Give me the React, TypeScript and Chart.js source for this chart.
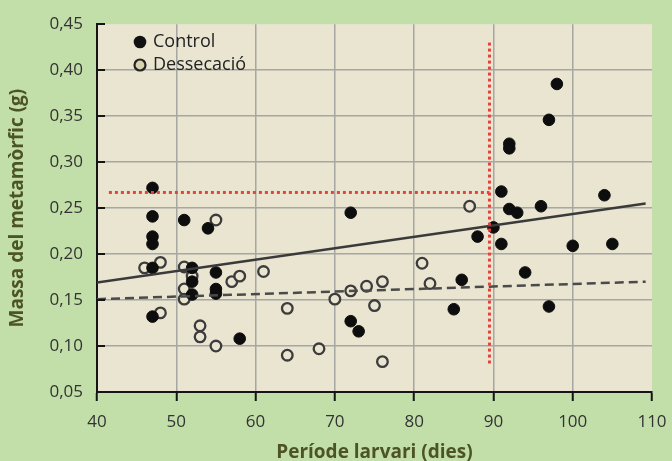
import React, { useEffect, useRef } from 'react';
import { Chart, registerables } from 'chart.js';

Chart.register(...registerables);

// ---- data ----
const controlX = [47, 47, 47, 47, 47, 47, 51, 54, 52, 52, 52, 55, 55, 55, 58, 72, 72, 73, 85, 86, 88, 90, 91, 91, 92, 93, 92, 92, 94, 96, 97, 97, 98, 100, 104, 105];
const controlY = [0.272, 0.241, 0.219, 0.211, 0.185, 0.132, 0.237, 0.228, 0.185, 0.170, 0.156, 0.180, 0.162, 0.157, 0.108, 0.245, 0.127, 0.116, 0.140, 0.172, 0.219, 0.229, 0.211, 0.268, 0.249, 0.245, 0.320, 0.315, 0.180, 0.252, 0.143, 0.346, 0.385, 0.209, 0.264, 0.211];

const dessX = [46, 48, 48, 51, 52, 51, 51, 55, 53, 53, 55, 57, 58, 61, 64, 64, 68, 70, 72, 74, 75, 76, 76, 81, 82, 87];
const dessY = [0.185, 0.191, 0.136, 0.186, 0.176, 0.162, 0.151, 0.237, 0.122, 0.110, 0.100, 0.170, 0.176, 0.181, 0.141, 0.090, 0.097, 0.151, 0.160, 0.165, 0.144, 0.170, 0.083, 0.190, 0.168, 0.252];

const controlTrendX = [40, 109.2];
const controlTrendY = [0.169, 0.255];
const dessTrendX = [40, 109.2];
const dessTrendY = [0.151, 0.170];

const redHX = [41.5, 89.5];
const redHY = [0.267, 0.267];
const redVX = [89.5, 89.5];
const redVY = [0.430, 0.081];

const xMin = 40, xMax = 110, xStep = 10;
const yMin = 0.05, yMax = 0.45, yStep = 0.05;

const legendLabels = ['Control', 'Dessecació'];
const xTitle = 'Període larvari (dies)';
const yTitle = 'Massa del metamòrfic (g)';

// ---- styles ----
const GREEN = '#C3DFA9';
const BEIGE = '#E9E5D1';
const GRID = '#A6A6A3';
const AXIS = '#151515';
const TITLE = '#4C5426';
const TICK = '#333333';
const RED = '#E8413C';

const pts = (xs: number[], ys: number[]) => xs.map((x, i) => ({ x, y: ys[i] }));

const deco = {
  id: 'deco',
  beforeDraw(chart: any) {
    const { ctx, chartArea: a, width, height } = chart;
    ctx.save();
    ctx.fillStyle = GREEN;
    ctx.fillRect(0, 0, width, height);
    ctx.fillStyle = BEIGE;
    ctx.fillRect(a.left, a.top, a.right - a.left, a.bottom - a.top);
    ctx.restore();
  },
  afterDraw(chart: any) {
    const { ctx, chartArea: a } = chart;
    const ys = chart.scales.y;
    ctx.save();
    ctx.strokeStyle = AXIS;
    ctx.lineWidth = 2;
    ys.ticks.forEach((t: any) => {
      const py = Math.round(ys.getPixelForValue(t.value));
      ctx.beginPath();
      ctx.moveTo(a.left, py);
      ctx.lineTo(a.left + 8, py);
      ctx.stroke();
    });
    // legend
    ctx.fillStyle = '#111';
    ctx.beginPath();
    ctx.arc(140, 42, 6.3, 0, Math.PI * 2);
    ctx.fill();
    ctx.fillStyle = '#D8D2AD';
    ctx.strokeStyle = '#222';
    ctx.lineWidth = 2.2;
    ctx.beginPath();
    ctx.arc(140, 65, 5.5, 0, Math.PI * 2);
    ctx.fill();
    ctx.stroke();
    ctx.fillStyle = '#222';
    ctx.font = '18px "Open Sans"';
    ctx.textBaseline = 'middle';
    ctx.textAlign = 'left';
    ctx.fillText(legendLabels[0], 153, 42);
    ctx.fillText(legendLabels[1], 153, 65);
    ctx.restore();
  },
};

export default function App() {
  const ref = useRef<HTMLCanvasElement>(null);
  useEffect(() => {
    document.body.style.margin = '0';
    const chart = new Chart(ref.current as HTMLCanvasElement, {
      type: 'scatter',
      data: {
        datasets: [
          {
            label: 'redH',
            data: pts(redHX, redHY),
            showLine: true,
            borderColor: RED,
            borderWidth: 3,
            borderDash: [3, 3],
            pointRadius: 0,
            order: 0,
          },
          {
            label: 'redV',
            data: pts(redVX, redVY),
            showLine: true,
            borderColor: RED,
            borderWidth: 3,
            borderDash: [3, 3],
            pointRadius: 0,
            order: 0,
          },
          {
            label: 'controlTrend',
            data: pts(controlTrendX, controlTrendY),
            showLine: true,
            borderColor: '#3a3a3a',
            borderWidth: 2.5,
            pointRadius: 0,
            order: 1,
          },
          {
            label: 'dessTrend',
            data: pts(dessTrendX, dessTrendY),
            showLine: true,
            borderColor: '#4a4a4a',
            borderWidth: 2.5,
            borderDash: [9, 5],
            pointRadius: 0,
            order: 1,
          },
          {
            label: legendLabels[0],
            data: pts(controlX, controlY),
            backgroundColor: '#0d0d0d',
            borderColor: '#0d0d0d',
            borderWidth: 1,
            pointRadius: 5.8,
            order: 2,
          },
          {
            label: legendLabels[1],
            data: pts(dessX, dessY),
            backgroundColor: BEIGE,
            borderColor: '#3c3c3c',
            borderWidth: 2.3,
            pointRadius: 5.3,
            order: 3,
          },
        ],
      },
      options: {
        responsive: true,
        maintainAspectRatio: false,
        animation: false,
        layout: { padding: { top: 17, right: 20, left: 0, bottom: 0 } },
        plugins: { legend: { display: false }, tooltip: { enabled: false } },
        scales: {
          x: {
            type: 'linear',
            min: xMin,
            max: xMax,
            afterFit: (s: any) => { s.height = 69; s.paddingLeft = 0; s.paddingRight = 0; },
            ticks: {
              stepSize: xStep,
              color: TICK,
              padding: 11,
              font: { family: '"Open Sans"', size: 17 },
            },
            grid: {
              color: (c: any) => (c.tick && (c.tick.value === xMax) ? 'rgba(0,0,0,0)' : GRID),
              lineWidth: 1.5,
              tickColor: AXIS,
              tickLength: 9,
              tickWidth: 2,
            },
            border: { display: true, color: AXIS, width: 2 },
            title: {
              display: true,
              text: xTitle,
              color: TITLE,
              font: { family: '"Open Sans"', size: 19, weight: 'bold' },
              padding: { top: 0, bottom: -3 },
            },
          },
          y: {
            type: 'linear',
            min: yMin,
            max: yMax,
            afterFit: (s: any) => { s.width = 97; },
            ticks: {
              stepSize: yStep,
              color: TICK,
              padding: 14,
              font: { family: '"Open Sans"', size: 17 },
              callback: (v: any) => Number(v).toFixed(2).replace('.', ','),
            },
            grid: {
              color: (c: any) => (c.tick && Math.abs(c.tick.value - yMax) < 1e-6 ? 'rgba(0,0,0,0)' : GRID),
              lineWidth: 1.5,
              drawTicks: false,
            },
            border: { display: true, color: AXIS, width: 2 },
            title: {
              display: true,
              text: yTitle,
              color: TITLE,
              font: { family: '"Open Sans"', size: 19, weight: 'bold' },
              padding: { top: 6, bottom: 0 },
            },
          },
        },
      },
      plugins: [deco],
    } as any);
    return () => chart.destroy();
  }, []);
  return (
    <div style={{ width: 672, height: 461, position: 'relative', background: GREEN }}>
      <canvas ref={ref} />
    </div>
  );
}
